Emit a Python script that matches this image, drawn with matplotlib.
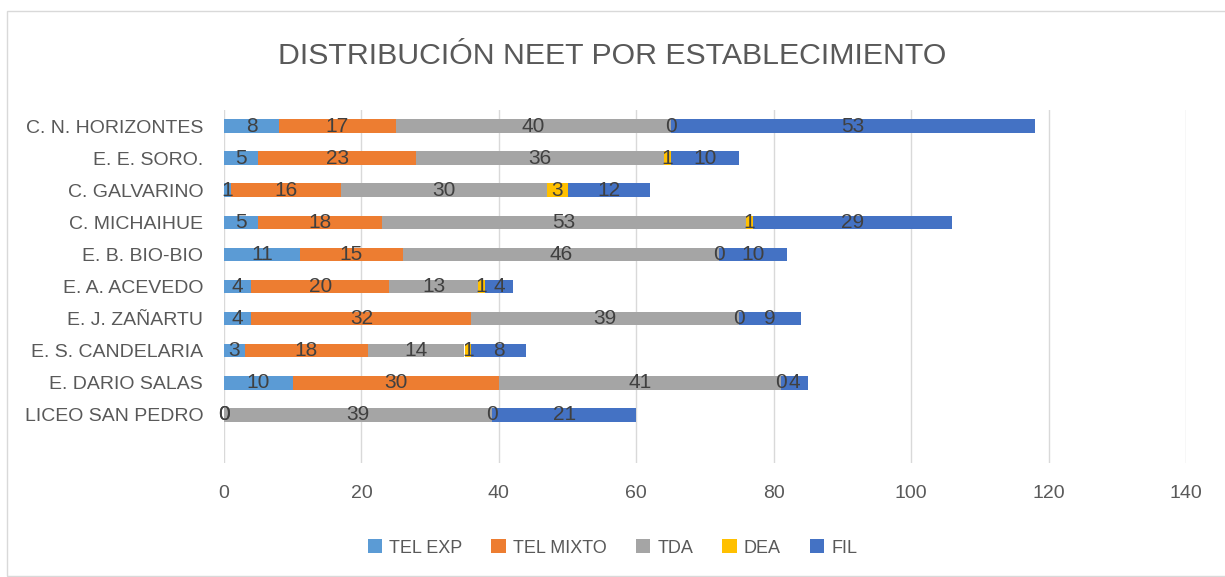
import matplotlib.pyplot as plt
from matplotlib.patches import Rectangle

plt.rcParams['font.family'] = ['Liberation Sans', 'DejaVu Sans']

escuelas = ['LICEO SAN PEDRO', 'E. DARIO SALAS', 'E. S. CANDELARIA', 'E. J. ZAÑARTU',
            'E. A. ACEVEDO', 'E. B. BIO-BIO', 'C. MICHAIHUE', 'C. GALVARINO',
            'E. E. SORO.', 'C. N. HORIZONTES']

tel_exp = [0, 10, 3, 4, 4, 11, 5, 1, 5, 8]
tel_mixto = [0, 30, 18, 32, 20, 15, 18, 16, 23, 17]
tda = [39, 41, 14, 39, 13, 46, 53, 30, 36, 40]
dea = [0, 0, 1, 0, 1, 0, 1, 3, 1, 0]
fil = [21, 4, 8, 9, 4, 10, 29, 12, 10, 53]

series = [('TEL EXP', tel_exp, '#5B9BD5'),
          ('TEL MIXTO', tel_mixto, '#ED7D31'),
          ('TDA', tda, '#A5A5A5'),
          ('DEA', dea, '#FFC000'),
          ('FIL', fil, '#4472C4')]

fig = plt.figure(figsize=(12.25, 5.77), dpi=100)
ax = fig.add_axes([224/1225, 1 - 463/577, (1186 - 224)/1225, (463 - 110)/577])

# borde del grafico
fig.patches.append(Rectangle((7/1225, 0.002), 1.2, 1 - 11/577 - 0.002, transform=fig.transFigure,
                             fill=False, edgecolor='#D9D9D9', linewidth=1))

pos = list(range(1, len(escuelas) + 1))
izq = [0] * len(escuelas)
for nombre, vals, color in series:
    barras = ax.barh(pos, vals, left=izq, height=0.42, color=color, label=nombre, zorder=3)
    ax.bar_label(barras, labels=[str(v) for v in vals], label_type='center',
                 fontsize=15, color='#404040', zorder=4)
    izq = [a + b for a, b in zip(izq, vals)]

ax.set_xlim(0, 140)
ax.set_ylim(0.5 - 1, len(escuelas) + 0.5)
ax.set_xticks(range(0, 141, 20))
ax.set_yticks(pos)
ax.set_yticklabels(escuelas)
ax.tick_params(length=0, labelsize=14, colors='#595959')
ax.tick_params(axis='x', pad=16)
ax.tick_params(axis='y', pad=15)
ax.grid(axis='x', color='#D9D9D9', linewidth=1, zorder=0)
for s in ax.spines.values():
    s.set_visible(False)

fig.text(0.5, 1 - 56/577, 'DISTRIBUCIÓN NEET POR ESTABLECIMIENTO', ha='center', va='center',
         fontsize=21.8, color='#595959')

fig.legend(loc='center', bbox_to_anchor=(0.5, 1 - 548/577), ncol=5, frameon=False,
           fontsize=13, labelcolor='#595959', handlelength=0.8, handleheight=0.8,
           columnspacing=1.6, handletextpad=0.4)

fig.savefig('out.png', dpi=100)
